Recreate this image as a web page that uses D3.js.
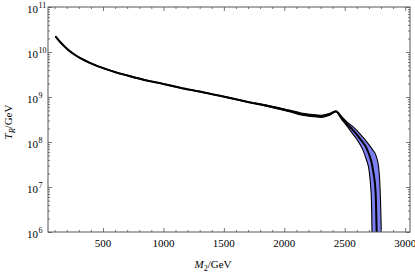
<!DOCTYPE html>
<html>
<head>
<meta charset="utf-8">
<script src="https://d3js.org/d3.v7.min.js"></script>
<style>
  html, body { margin: 0; padding: 0; background: #fff; }
  svg { display: block; font-family: "Liberation Serif", "DejaVu Serif", serif; }
  .tick line { stroke: #777; }
</style>
</head>
<body>
<script>
// central curve: M2 in GeV, log10(T_R / GeV)
var massC = [106, 150, 211, 260, 321, 390, 459, 530, 597, 700, 872, 1000, 1147, 1300, 1423, 1550, 1698, 1850, 1974, 2060, 2139, 2220, 2304, 2370, 2428, 2470, 2514, 2552, 2624, 2693, 2734, 2756, 2764, 2767];
var logC  = [10.349, 10.21, 10.051, 9.95, 9.851, 9.76, 9.682, 9.615, 9.556, 9.48, 9.362, 9.29, 9.2, 9.12, 9.051, 8.98, 8.889, 8.81, 8.733, 8.68, 8.622, 8.59, 8.571, 8.61, 8.682, 8.55, 8.416, 8.31, 8.082, 7.784, 7.378, 6.86, 6.04, 5.8];

// upper edge of band
var massU = [106, 150, 211, 260, 321, 390, 459, 530, 597, 700, 872, 1000, 1147, 1300, 1423, 1550, 1698, 1850, 1974, 2060, 2139, 2220, 2304, 2370, 2428, 2470, 2514, 2568, 2630, 2692, 2730, 2762, 2780, 2789, 2796, 2800, 2804];
var logU  = [10.355, 10.216, 10.057, 9.956, 9.857, 9.766, 9.688, 9.621, 9.562, 9.486, 9.368, 9.296, 9.206, 9.126, 9.057, 8.986, 8.896, 8.822, 8.748, 8.7, 8.645, 8.615, 8.595, 8.63, 8.69, 8.58, 8.46, 8.34, 8.17, 7.97, 7.83, 7.674, 7.45, 7.156, 6.7, 6.3, 5.8];

// lower edge of band
var massL = [106, 150, 211, 260, 321, 390, 459, 530, 597, 700, 872, 1000, 1147, 1300, 1423, 1550, 1698, 1850, 1974, 2060, 2139, 2220, 2304, 2370, 2428, 2470, 2514, 2555, 2600, 2651, 2680, 2701, 2715, 2721, 2724, 2727];
var logL  = [10.343, 10.204, 10.045, 9.944, 9.845, 9.754, 9.676, 9.609, 9.55, 9.474, 9.356, 9.284, 9.194, 9.114, 9.045, 8.974, 8.882, 8.798, 8.718, 8.66, 8.6, 8.565, 8.548, 8.59, 8.672, 8.52, 8.37, 8.22, 8.06, 7.82, 7.6, 7.378, 7.0, 6.71, 6.3, 5.8];

var xTicks = [500, 1000, 1500, 2000, 2500, 3000];
var yExps = [6, 7, 8, 9, 10, 11];

var W = 415, H = 272;
var L = 48, R = 410, T = 7, B = 232;

var svg = d3.select("body").append("svg").attr("width", W).attr("height", H);

var x = d3.scaleLinear().domain([45, 3040]).range([L, R]);
var y = d3.scaleLog().domain([1e6, 1e11]).range([B, T]);

function pts(ms, ls) {
    return ms.map(function(m, i) { return [m, Math.pow(10, ls[i])]; });
}
var center = pts(massC, logC), upper = pts(massU, logU), lower = pts(massL, logL);

svg.append("clipPath").attr("id", "clip")
    .append("rect").attr("x", L).attr("y", T).attr("width", R - L).attr("height", B - T);

var plot = svg.append("g").attr("clip-path", "url(#clip)");

var line = d3.line()
    .x(function(d) { return x(d[0]); })
    .y(function(d) { return y(d[1]); })
    .curve(d3.curveMonotoneX);

// band polygon
var bandPts = upper.concat(lower.slice().reverse());
plot.append("path")
    .attr("d", d3.line().x(function(d) { return x(d[0]); }).y(function(d) { return y(d[1]); })(bandPts))
    .attr("fill", "#7f7ff5")
    .attr("stroke", "none");

plot.append("path").datum(upper).attr("d", line)
    .attr("fill", "none").attr("stroke", "#000").attr("stroke-width", 1.1);
plot.append("path").datum(lower).attr("d", line)
    .attr("fill", "none").attr("stroke", "#000").attr("stroke-width", 1.1);
plot.append("path").datum(center).attr("d", line)
    .attr("fill", "none").attr("stroke", "#000").attr("stroke-width", 2);

// x ticks, bottom and top
var minorX = d3.range(100, 3040, 100).filter(function(v) { return v % 500 !== 0; });
function xAxes(gen, yPos) {
    svg.append("g").attr("transform", "translate(0," + yPos + ")")
        .call(gen(x).tickValues(minorX).tickSize(-2).tickFormat(""))
        .call(function(g) { g.select(".domain").remove(); });
    svg.append("g").attr("transform", "translate(0," + yPos + ")")
        .call(gen(x).tickValues(xTicks).tickSize(-4).tickFormat(""))
        .call(function(g) { g.select(".domain").remove(); });
}
xAxes(d3.axisBottom, B);
xAxes(d3.axisTop, T);

// y ticks, left and right
var minorY = [];
for (var e = 6; e < 11; e++) for (var k = 2; k <= 9; k++) minorY.push(k * Math.pow(10, e));
var majorY = yExps.map(function(e) { return Math.pow(10, e); });
function yAxes(gen, xPos) {
    svg.append("g").attr("transform", "translate(" + xPos + ",0)")
        .call(gen(y).tickValues(minorY).tickSize(-2).tickFormat(""))
        .call(function(g) { g.select(".domain").remove(); });
    svg.append("g").attr("transform", "translate(" + xPos + ",0)")
        .call(gen(y).tickValues(majorY).tickSize(-4).tickFormat(""))
        .call(function(g) { g.select(".domain").remove(); });
}
yAxes(d3.axisLeft, L);
yAxes(d3.axisRight, R);

// frame
svg.append("rect").attr("x", L).attr("y", T).attr("width", R - L).attr("height", B - T)
    .attr("fill", "none").attr("stroke", "#555").attr("stroke-width", 1);

// x tick labels
svg.append("g").selectAll("text").data(xTicks).join("text")
    .attr("x", function(d) { return x(d); })
    .attr("y", B + 15)
    .attr("text-anchor", "middle")
    .attr("font-size", 11)
    .text(function(d) { return d; });

// y tick labels 10^n
var yl = svg.append("g").selectAll("g").data(yExps).join("g");
yl.append("text")
    .attr("x", 38)
    .attr("y", function(d) { return y(Math.pow(10, d)) + 5.5; })
    .attr("text-anchor", "end")
    .attr("font-size", 11)
    .text("10");
yl.append("text")
    .attr("x", 38.5)
    .attr("y", function(d) { return y(Math.pow(10, d)) + 1; })
    .attr("font-size", 8)
    .text(function(d) { return d; });

// axis titles
var xt = svg.append("text").attr("x", 213).attr("y", 268).attr("text-anchor", "middle").attr("font-size", 11);
xt.append("tspan").attr("font-style", "italic").text("M");
xt.append("tspan").attr("font-size", 8).attr("dy", 3).text("2");
xt.append("tspan").attr("dy", -3).text("/GeV");

var yt = svg.append("text").attr("transform", "translate(12,122) rotate(-90)")
    .attr("text-anchor", "middle").attr("font-size", 11);
yt.append("tspan").attr("font-style", "italic").text("T");
yt.append("tspan").attr("font-style", "italic").attr("font-size", 8).attr("dy", 3).text("R");
yt.append("tspan").attr("dy", -3).text("/GeV");
</script>
</body>
</html>
